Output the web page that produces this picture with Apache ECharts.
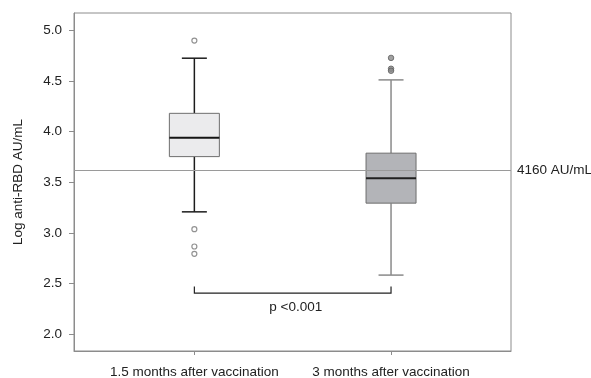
<!DOCTYPE html>
<html>
<head>
<meta charset="utf-8">
<script src="https://cdn.jsdelivr.net/npm/echarts@6/dist/echarts.min.js"></script>
<style>
html,body{margin:0;padding:0;background:#fff;}
#chart{width:591px;height:378px;}
</style>
</head>
<body>
<div id="chart"></div>
<script>
// ---- data ----
var categories = ['1.5 months after vaccination', '3 months after vaccination'];
var categoryPos = [1, 2];
var lowWhisker = [3.208, 2.584];
var q1 = [3.753, 3.294];
var median = [3.94, 3.54];
var q3 = [4.18, 3.787];
var highWhisker = [4.724, 4.51];
var outliers1 = [4.898, 3.037, 2.866, 2.794];
var outliers2 = [4.727, 4.62, 4.60];
var yTicks = [2.0, 2.5, 3.0, 3.5, 4.0, 4.5, 5.0];
var refValue = 3.619; // log10(4160)
var refLabel = '4160 AU/mL';
var bracketLevel = [2.406, 2.471];
var pText = 'p <0.001';
var pTextLevel = 2.265;

var FONT = '"Liberation Sans", Arial, Helvetica, sans-serif';
var FS = 13.5;
var boxStyles = [
  {fill:'#ebebed', stroke:'#6e6e6e', whisker:'#1c1c1c', med:'#151515'},
  {fill:'#b3b4b8', stroke:'#6e6e6e', whisker:'#8a8a8a', med:'#202020'}
];

var boxData = categoryPos.map(function(p,i){
  return [p, lowWhisker[i], q1[i], median[i], q3[i], highWhisker[i]];
});

var chart = echarts.init(document.getElementById('chart'), null, {renderer:'canvas'});
var option = {
  animation:false,
  backgroundColor:'#fff',
  grid:{left:74, right:80, top:13, bottom:27, show:true, borderColor:'#8c8c8c', borderWidth:1, backgroundColor:'transparent', containLabel:false, outerBoundsMode:'none'},
  xAxis:{
    type:'value', min:0.388, max:2.61,
    splitLine:{show:false},
    axisLine:{show:true, lineStyle:{color:'#8c8c8c', width:1}},
    axisTick:{show:true, length:4, customValues:categoryPos, lineStyle:{color:'#8c8c8c'}},
    axisLabel:{
      customValues:categoryPos, margin:14, color:'#222', fontSize:FS, fontFamily:FONT,
      formatter:function(v){ var i = categoryPos.indexOf(Math.round(v)); return i>=0 ? categories[i] : ''; }
    }
  },
  yAxis:{
    type:'value', min:1.835, max:5.17,
    name:'Log anti-RBD AU/mL', nameLocation:'middle', nameGap:49, nameRotate:90,
    nameTextStyle:{color:'#222', fontSize:FS, fontFamily:FONT},
    splitLine:{show:false},
    axisLine:{show:true, lineStyle:{color:'#8c8c8c'}},
    axisTick:{show:true, length:5, customValues:yTicks, lineStyle:{color:'#8c8c8c'}},
    axisLabel:{customValues:yTicks, margin:12, color:'#222', fontSize:FS, fontFamily:FONT,
      formatter:function(v){ return v.toFixed(1); }}
  },
  series:[
    {
      type:'line', data:[], silent:true,
      markLine:{
        silent:true, symbol:['none','none'],
        lineStyle:{color:'#9a9a9a', width:1, type:'solid'},
        label:{show:true, position:'end', formatter:refLabel, color:'#222', fontSize:FS, fontFamily:FONT, distance:6},
        data:[{yAxis:refValue}]
      }
    },
    {
      type:'custom',
      data:boxData,
      renderItem:function(params, api){
        var i = params.dataIndex;
        var st = boxStyles[i];
        var x = api.value(0);
        var pLow = api.coord([x, api.value(1)]);
        var pQ1 = api.coord([x, api.value(2)]);
        var pMed = api.coord([x, api.value(3)]);
        var pQ3 = api.coord([x, api.value(4)]);
        var pHigh = api.coord([x, api.value(5)]);
        var cx = pMed[0];
        var hw = 25, cw = 12.5;
        return {
          type:'group',
          children:[
            {type:'line', shape:{x1:cx, y1:pHigh[1], x2:cx, y2:pQ3[1]}, style:{stroke:st.whisker, lineWidth:1.5}},
            {type:'line', shape:{x1:cx, y1:pQ1[1], x2:cx, y2:pLow[1]}, style:{stroke:st.whisker, lineWidth:1.5}},
            {type:'line', shape:{x1:cx-cw, y1:pHigh[1], x2:cx+cw, y2:pHigh[1]}, style:{stroke:st.whisker, lineWidth:1.5}},
            {type:'line', shape:{x1:cx-cw, y1:pLow[1], x2:cx+cw, y2:pLow[1]}, style:{stroke:st.whisker, lineWidth:1.5}},
            {type:'rect', shape:{x:cx-hw, y:pQ3[1], width:2*hw, height:pQ1[1]-pQ3[1]}, style:{fill:st.fill, stroke:st.stroke, lineWidth:1}},
            {type:'line', shape:{x1:cx-hw, y1:pMed[1], x2:cx+hw, y2:pMed[1]}, style:{stroke:st.med, lineWidth:2}}
          ]
        };
      },
      z:3
    },
    {
      type:'scatter', symbol:'circle', symbolSize:5,
      data:outliers1.map(function(v){return [categoryPos[0], v];}),
      itemStyle:{color:'#ffffff', borderColor:'#777', borderWidth:1.2},
      z:4
    },
    {
      type:'scatter', symbol:'circle', symbolSize:5.5,
      data:outliers2.map(function(v){return [categoryPos[1], v];}),
      itemStyle:{color:'#8a8a8a', borderColor:'#5e5e5e', borderWidth:1},
      z:4
    },
    {
      type:'custom',
      data:[[categoryPos[0], categoryPos[1], bracketLevel[0], bracketLevel[1], pTextLevel]],
      renderItem:function(params, api){
        var a = api.coord([api.value(0), api.value(2)]);
        var b = api.coord([api.value(1), api.value(2)]);
        var top = api.coord([api.value(0), api.value(3)]);
        var t = api.coord([(api.value(0)+api.value(1))/2, api.value(4)]);
        return {
          type:'group',
          children:[
            {type:'polyline', shape:{points:[[a[0], top[1]],[a[0], a[1]],[b[0], b[1]],[b[0], top[1]]]}, style:{stroke:'#222', lineWidth:1.2, fill:null}},
            {type:'text', x:t[0]+3, y:t[1], style:{text:pText, fill:'#222', font:FS+'px '+FONT, align:'center', verticalAlign:'middle'}}
          ]
        };
      },
      z:3
    }
  ]
};
chart.setOption(option);
</script>
</body>
</html>
